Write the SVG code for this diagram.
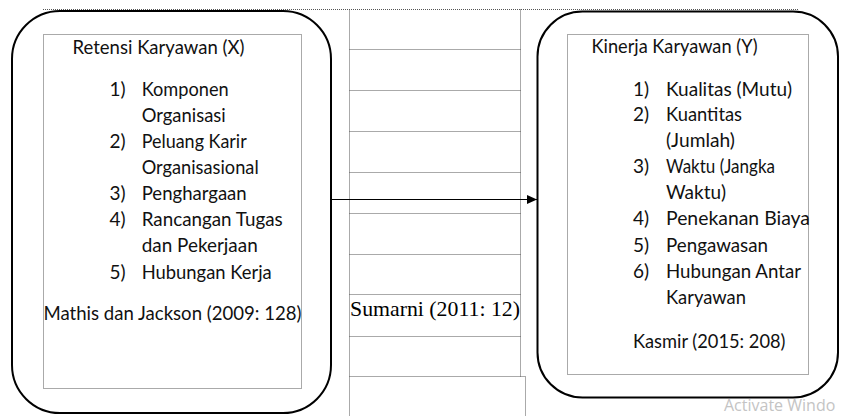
<svg xmlns="http://www.w3.org/2000/svg" width="843" height="416" viewBox="0 0 843 416">
  <style>
    .t { font-family: Lato, "Open Sans", sans-serif; font-size: 19px; fill: #111; }
    .serif { font-family: "Liberation Serif", "Times New Roman", serif; font-size: 21px; fill: #000; }
    .round { fill: #fff; stroke: #000; stroke-width: 2; }
    .dot { fill: none; stroke: #555; stroke-width: 1; stroke-dasharray: 1 1; }
    .wm { font-family: "Open Sans", "Noto Sans", sans-serif; font-size: 16px; fill: #c4c4c4; }
  </style>
  <defs>
    <marker id="arrow" markerWidth="10" markerHeight="10" refX="10" refY="5" orient="auto" markerUnits="userSpaceOnUse">
      <path d="M0,0.5 L10,5 L0,9.5 Z" fill="#000"/>
    </marker>
  </defs>
  <rect width="843" height="416" fill="#fff"/>

  <!-- background grid / table -->
  <g id="table">
    <line class="dot" x1="43" y1="9.5" x2="798" y2="9.5"/>
    <line class="dot" x1="349.5" y1="9.5" x2="349.5" y2="416"/>
    <line class="dot" x1="520.5" y1="9.5" x2="520.5" y2="376.5"/>
    <line class="dot" x1="349.5" y1="49.5" x2="520.5" y2="49.5"/>
    <line class="dot" x1="349.5" y1="90.5" x2="520.5" y2="90.5"/>
    <line class="dot" x1="349.5" y1="131.5" x2="520.5" y2="131.5"/>
    <line class="dot" x1="349.5" y1="172.5" x2="520.5" y2="172.5"/>
    <line class="dot" x1="349.5" y1="213.5" x2="520.5" y2="213.5"/>
    <line class="dot" x1="349.5" y1="254.5" x2="520.5" y2="254.5"/>
    <line class="dot" x1="349.5" y1="294.5" x2="520.5" y2="294.5"/>
    <line class="dot" x1="349.5" y1="336.5" x2="520.5" y2="336.5"/>
    <line class="dot" x1="349.5" y1="376.5" x2="525.5" y2="376.5"/>
    <line class="dot" x1="525.5" y1="376.5" x2="525.5" y2="416"/>
  </g>

  <g id="node-retensi">
    <rect class="round" x="12" y="11" width="319" height="402" rx="48" ry="48"/>
    <rect class="dot" x="43.5" y="34.5" width="258" height="354"/>
    <text class="t" x="72.5" y="54" textLength="172" lengthAdjust="spacingAndGlyphs">Retensi Karyawan (X)</text>
    <text class="t" x="109.5" y="96">1)</text>
    <text class="t" x="141.7" y="96" textLength="87" lengthAdjust="spacingAndGlyphs">Komponen</text>
    <text class="t" x="141.7" y="122" textLength="84" lengthAdjust="spacingAndGlyphs">Organisasi</text>
    <text class="t" x="109.5" y="148">2)</text>
    <text class="t" x="141.7" y="148" textLength="105" lengthAdjust="spacingAndGlyphs">Peluang Karir</text>
    <text class="t" x="141.7" y="174" textLength="117" lengthAdjust="spacingAndGlyphs">Organisasional</text>
    <text class="t" x="109.5" y="200">3)</text>
    <text class="t" x="141.7" y="200" textLength="105" lengthAdjust="spacingAndGlyphs">Penghargaan</text>
    <text class="t" x="109.5" y="226">4)</text>
    <text class="t" x="141.7" y="226" textLength="141" lengthAdjust="spacingAndGlyphs">Rancangan Tugas</text>
    <text class="t" x="141.7" y="252" textLength="116" lengthAdjust="spacingAndGlyphs">dan Pekerjaan</text>
    <text class="t" x="109.5" y="279">5)</text>
    <text class="t" x="141.7" y="279" textLength="130" lengthAdjust="spacingAndGlyphs">Hubungan Kerja</text>
    <text class="t" x="43.5" y="320" textLength="258" lengthAdjust="spacingAndGlyphs">Mathis dan Jackson (2009: 128)</text>
  </g>

  <g id="node-sumarni">
    <text class="serif" x="350" y="316" textLength="170" lengthAdjust="spacingAndGlyphs">Sumarni (2011: 12)</text>
  </g>

  <g id="node-kinerja">
    <rect class="round" x="537.5" y="11.5" width="300.5" height="386" rx="45" ry="45"/>
    <rect class="dot" x="567.5" y="34.5" width="241" height="340"/>
    <text class="t" x="591.5" y="53" textLength="166" lengthAdjust="spacingAndGlyphs">Kinerja Karyawan (Y)</text>
    <text class="t" x="633" y="96">1)</text>
    <text class="t" x="666" y="96" textLength="126" lengthAdjust="spacingAndGlyphs">Kualitas (Mutu)</text>
    <text class="t" x="633" y="121">2)</text>
    <text class="t" x="666" y="121" textLength="76" lengthAdjust="spacingAndGlyphs">Kuantitas</text>
    <text class="t" x="666" y="147" textLength="69" lengthAdjust="spacingAndGlyphs">(Jumlah)</text>
    <text class="t" x="633" y="173">3)</text>
    <text class="t" x="666" y="173" textLength="109" lengthAdjust="spacingAndGlyphs">Waktu (Jangka</text>
    <text class="t" x="666" y="199" textLength="60" lengthAdjust="spacingAndGlyphs">Waktu)</text>
    <text class="t" x="633" y="225">4)</text>
    <text class="t" x="666" y="225" textLength="144" lengthAdjust="spacingAndGlyphs">Penekanan Biaya</text>
    <text class="t" x="633" y="252">5)</text>
    <text class="t" x="666" y="252" textLength="102" lengthAdjust="spacingAndGlyphs">Pengawasan</text>
    <text class="t" x="633" y="278">6)</text>
    <text class="t" x="666" y="278" textLength="135" lengthAdjust="spacingAndGlyphs">Hubungan Antar</text>
    <text class="t" x="666" y="304" textLength="80" lengthAdjust="spacingAndGlyphs">Karyawan</text>
    <text class="t" x="633" y="348" textLength="152.5" lengthAdjust="spacingAndGlyphs">Kasmir (2015: 208)</text>
  </g>

  <g id="connectors">
    <line x1="331" y1="199.5" x2="537" y2="199.5" stroke="#000" stroke-width="1" marker-end="url(#arrow)"/>
  </g>

  <text class="wm" x="724" y="411">Activate Windo</text>
</svg>
